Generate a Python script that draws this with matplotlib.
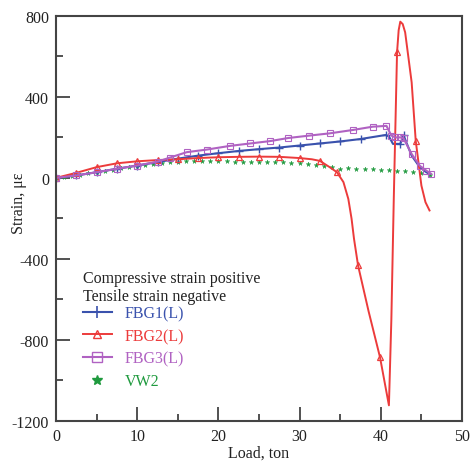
import matplotlib
matplotlib.use("Agg")
import matplotlib.pyplot as plt
from matplotlib.ticker import MultipleLocator
from matplotlib.lines import Line2D

plt.rcParams['font.family'] = ['Liberation Serif', 'DejaVu Serif']
plt.rcParams['axes.unicode_minus'] = False

# ---- data ----
fbg1_load = [0, 2.5, 5, 7.5, 10, 12.5, 15, 17.5, 20, 22.5, 25, 27.5, 30, 32.5, 35, 37.5, 40.6,
             41.0, 41.5, 42.4, 42.8, 43.8, 44.8, 45.6, 46.0]
fbg1_strain = [0, 12, 28, 45, 61, 78, 95, 110, 122, 133, 142, 150, 160, 170, 180, 192, 212,
               205, 168, 168, 210, 110, 53, 28, 20]

fbg2_load = [0, 2.5, 5, 7.5, 10, 12.5, 15, 17.5, 20, 22.5, 25, 27.5, 30, 31.5, 32.5, 33.7, 34.6,
             35.4, 36.0, 36.4, 36.7, 37.2, 38.5, 39.9, 41.0, 41.3, 41.6, 42.0, 42.2, 42.4,
             42.7, 43.0, 43.8, 44.3, 45.0, 45.5, 46.0]
fbg2_strain = [0, 25, 53, 72, 82, 88, 92, 98, 102, 104, 105, 104, 98, 92, 84, 53, 28,
               -21, -104, -202, -301, -433, -660, -886, -1124, -700, -100, 620, 730, 772,
               760, 719, 472, 184, -38, -120, -161]

fbg3_load = [0, 2.5, 5, 7.5, 10, 12.5, 14, 16.1, 18.6, 21.4, 23.9, 26.4, 28.6, 31.2, 33.7,
             36.6, 39.0, 40.7, 41.3, 41.8, 42.4, 42.8, 43.8, 44.8, 45.6, 46.2]
fbg3_strain = [0, 12, 28, 45, 61, 80, 100, 127, 140, 158, 170, 182, 197, 209, 220,
               237, 253, 257, 209, 200, 200, 195, 118, 60, 36, 20]

vw2_load = [0, 1, 2, 3, 4, 5, 6, 7, 8, 9, 10, 11, 12, 13, 14, 15, 16, 17, 18, 19, 20, 21,
            22, 23, 24, 25, 26, 27, 28, 29, 30, 31, 32, 33, 34, 35, 36, 37, 38, 39, 40,
            41, 42, 43, 44, 45, 46]
vw2_strain = [0, 5, 10, 16, 22, 28, 35, 41, 48, 54, 60, 65, 70, 74, 77, 80, 82, 83, 84, 84, 83, 82,
              80, 79, 79, 78, 78, 77, 77, 76, 75, 70, 65, 58, 52, 46, 48, 46, 44, 42, 40,
              38, 36, 34, 31, 25, 16]

c_blue = '#3a52ad'
c_red = '#ec3b3b'
c_mag = '#b062c2'
c_green = '#1f9a3e'

fig = plt.figure(figsize=(4.71, 4.64), dpi=100)
ax = fig.add_axes([56/471, 1-421.7/464, 406/471, 404.7/464])

ax.plot(vw2_load, vw2_strain, linestyle='none', marker='*', color=c_green, markersize=3.5,
        markeredgewidth=0.3, label='VW2')
ax.plot(fbg1_load, fbg1_strain, color=c_blue, lw=1.5, marker='+', markersize=6,
        markeredgewidth=1.0, markevery=list(range(0, 17)) + [19, 20], label='FBG1(L)')
ax.plot(fbg2_load, fbg2_strain, color=c_red, lw=1.4, marker='^', markersize=4.5,
        markerfacecolor='none', markeredgewidth=0.9,
        markevery=[0, 1, 2, 3, 4, 5, 6, 7, 8, 9, 10, 11, 12, 14, 16, 21, 23, 27, 33],
        label='FBG2(L)')
ax.plot(fbg3_load, fbg3_strain, color=c_mag, lw=1.5, marker='s', markersize=5,
        markerfacecolor='none', markeredgewidth=0.8, label='FBG3(L)')

ax.set_xlim(0, 50)
ax.set_ylim(-1200, 800)
ax.xaxis.set_major_locator(MultipleLocator(10))
ax.xaxis.set_minor_locator(MultipleLocator(5))
ax.yaxis.set_major_locator(MultipleLocator(400))
ax.yaxis.set_minor_locator(MultipleLocator(200))
ax.tick_params(which='both', direction='in', top=False, right=False, width=1.2,
               color='#333333', labelsize=11.5, labelcolor='#222222')
ax.tick_params(which='major', length=10, pad=5)
ax.tick_params(which='minor', length=5)
for s in ax.spines.values():
    s.set_linewidth(1.5)
    s.set_color('#444444')

ax.set_xlabel('Load, ton', fontsize=11.5, color='#222222', labelpad=1)
ax.set_ylabel('Strain, με', fontsize=11.5, color='#222222')
ax.yaxis.set_label_coords(-0.072, 0.54)

ax.text(0.0665, 0.3526, 'Compressive strain positive', transform=ax.transAxes,
        fontsize=11.5, va='center', ha='left', color='#222222')
ax.text(0.0665, 0.308, 'Tensile strain negative', transform=ax.transAxes,
        fontsize=11.5, va='center', ha='left', color='#222222')

handles = [
    Line2D([], [], color=c_blue, lw=1.5, marker='+', markersize=9, markeredgewidth=1.2),
    Line2D([], [], color=c_red, lw=1.4, marker='^', markersize=6, markerfacecolor='none'),
    Line2D([], [], color=c_mag, lw=1.5, marker='s', markersize=6.5, markerfacecolor='none'),
    Line2D([], [], linestyle='none', color=c_green, marker='*', markersize=7),
]
labels = ['FBG1(L)', 'FBG2(L)', 'FBG3(L)', 'VW2']
leg = ax.legend(handles, labels, loc='upper left', bbox_to_anchor=(0.0665, 0.285),
                frameon=False, borderpad=0, borderaxespad=0, fontsize=11.5,
                handlelength=1.8, handletextpad=0.8, labelspacing=0.42)
for t, c in zip(leg.get_texts(), [c_blue, c_red, c_mag, c_green]):
    t.set_color(c)

fig.savefig('out.png', dpi=100)
